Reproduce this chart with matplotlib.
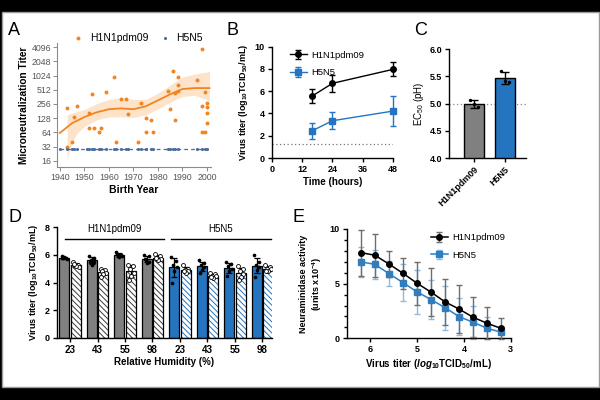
import numpy as np
import matplotlib.pyplot as plt
from matplotlib.patches import Rectangle
from matplotlib.ticker import MultipleLocator, NullLocator

plt.rcParams['font.family'] = ['Liberation Sans', 'DejaVu Sans']
plt.rcParams['mathtext.fontset'] = 'custom'
plt.rcParams['mathtext.rm'] = 'Liberation Sans:bold'
plt.rcParams['mathtext.it'] = 'Liberation Sans:italic:bold'
plt.rcParams['mathtext.bf'] = 'Liberation Sans:bold'
plt.rcParams['hatch.linewidth'] = 0.7

# ---- panel A: microneutralization titers by birth year ----
a_h1_years = [1943, 1943, 1945, 1946, 1947, 1952, 1953, 1952, 1954, 1956, 1957, 1959, 1962, 1963,
              1965, 1967, 1968, 1972, 1973, 1975, 1975, 1977, 1978, 1984, 1985, 1986, 1987, 1987,
              1988, 1988, 1988, 1996, 1998, 1998, 1998, 1999, 1999, 2000, 2000, 2000, 2000]
a_h1_titers = [31, 208, 40, 133, 232, 168, 415, 80, 80, 64, 80, 450, 930, 40,
               325, 325, 160, 40, 265, 64, 131, 117, 64, 470, 200, 1300, 117, 430,
               930, 650, 470, 820, 3800, 232, 64, 64, 450, 265, 222, 168, 103]
a_h5_years = [1940, 1943, 1945, 1946, 1947, 1951, 1952, 1953, 1954, 1956, 1957, 1959, 1962, 1963,
              1965, 1967, 1968, 1972, 1973, 1975, 1975, 1977, 1978, 1984, 1985, 1986, 1987, 1988,
              1996, 1998, 1999, 2000]
a_h5_titer = 28.3
a_fit_years = [1940, 1945, 1950, 1955, 1960, 1965, 1970, 1975, 1980, 1985, 1990, 1995, 2001]
a_fit_vals = [62, 100, 135, 170, 198, 206, 198, 228, 305, 410, 530, 555, 555]
a_band_years = [1943, 1945, 1947, 1950, 1955, 1960, 1965, 1970, 1975, 1980, 1985, 1990, 1995, 2001]
a_band_lo = [17, 40, 61, 85, 118, 135, 137, 133, 150, 200, 280, 370, 390, 300]
a_band_hi = [150, 165, 176, 195, 260, 320, 345, 320, 320, 430, 640, 950, 1100, 1240]
a_titer_ticks = [16, 32, 64, 128, 256, 512, 1024, 2048, 4096]

# ---- panel B: growth kinetics ----
b_hours = [16, 24, 48]
b_h1_mean = [5.57, 6.71, 7.97]
b_h1_sd = [0.63, 0.75, 0.63]
b_h5_mean = [2.45, 3.35, 4.22]
b_h5_sd = [0.73, 0.78, 1.32]
b_lod = 1.26

# ---- panel C: pH of fusion ----
c_strains = ['H1N1pdm09', 'H5N5']
c_reps = [[5.07, 4.99, 4.93], [5.60, 5.42, 5.40]]

# ---- panel D: stability at relative humidity ----
d_rh = ['23', '43', '55', '98', '23', '43', '55', '98']
d_solid = [[5.9, 5.8, 5.75, 5.7, 5.85, 5.8],
           [5.95, 5.8, 5.6, 5.45, 5.3, 5.5],
           [6.2, 6.0, 5.95, 5.9, 5.85, 6.05],
           [6.0, 5.9, 5.6, 5.5, 5.4, 5.7],
           [5.85, 5.55, 5.3, 5.1, 4.8, 3.95],
           [5.6, 5.4, 5.3, 5.1, 4.9, 4.7],
           [5.5, 5.35, 5.2, 5.0, 4.85, 4.5],
           [6.0, 5.5, 5.3, 5.1, 4.9, 4.4]]
d_hatched = [[5.45, 5.3, 5.25, 5.1, 5.2, 5.35],
             [5.0, 4.9, 4.8, 4.7, 4.6, 4.4],
             [5.3, 5.2, 5.0, 4.7, 4.5, 4.2],
             [6.05, 5.95, 5.8, 5.7, 5.6, 5.75],
             [5.3, 5.0, 4.9, 4.8, 4.7, 4.85],
             [4.7, 4.6, 4.5, 4.45, 4.35, 4.4],
             [5.2, 5.0, 4.8, 4.6, 4.4, 4.2],
             [5.3, 5.15, 5.0, 4.95, 4.85, 4.8]]

# ---- panel E: neuraminidase activity ----
e_titer = [6.2, 5.9, 5.6, 5.3, 5.0, 4.7, 4.4, 4.1, 3.8, 3.5, 3.2]
e_h1_mean = [7.84, 7.6, 6.8, 5.95, 5.04, 4.22, 3.33, 2.67, 1.92, 1.37, 0.9]
e_h1_sd = [2.1, 1.95, 1.15, 1.43, 1.98, 2.2, 2.14, 2.2, 1.83, 1.47, 0.92]
e_h5_mean = [6.99, 6.77, 5.92, 5.1, 4.25, 3.54, 2.8, 1.98, 1.46, 0.91, 0.55]
e_h5_sd = [1.34, 1.3, 1.15, 1.7, 2.0, 1.75, 2.0, 1.7, 1.5, 1.0, 0.5]

ORANGE = '#f28522'
SLATE = '#4a6c9e'
BLUE = '#2474c0'
GRAY = '#808080'

W, H = 600, 400
fig = plt.figure(figsize=(6, 4), dpi=100)
fig.patch.set_facecolor('black')
fig.add_artist(Rectangle((1.5 / W, 1 - 387 / H), 597 / W, 375 / H, transform=fig.transFigure,
                         facecolor='white', edgecolor='#9a9a9a', lw=1, zorder=-5))


def px_axes(l, t, r, b):
    return fig.add_axes([l / W, 1 - b / H, (r - l) / W, (b - t) / H])


def prism(ax):
    for s in ['top', 'right']:
        ax.spines[s].set_visible(False)
    for s in ['left', 'bottom']:
        ax.spines[s].set_linewidth(1.0)
    ax.tick_params(width=1.0, length=3, labelsize=6.5, pad=2)
    ax.set_facecolor('none')


def bold_ticks(ax):
    for lab in ax.get_xticklabels() + ax.get_yticklabels():
        lab.set_fontweight('bold')


# panel labels
for letter, x, y in [('A', 8, 35), ('B', 226, 35), ('C', 414, 35), ('D', 8, 222), ('E', 293, 222)]:
    fig.text(x / W, 1 - y / H, letter, fontsize=13, va='baseline', ha='left')

# ---------- A ----------
axA = px_axes(57.3, 43, 210.7, 166.7)
axA.set_facecolor('none')
axA.fill_between(a_band_years, a_band_lo, a_band_hi, color='#fde3c9', lw=0, zorder=1)
axA.plot(a_fit_years, a_fit_vals, color=ORANGE, lw=1.3, zorder=2)
axA.plot([a_h5_years[0], 2001], [a_h5_titer, a_h5_titer], color=SLATE, lw=0.9,
         ls=(0, (3, 2.5)), zorder=2)
axA.scatter(a_h1_years, a_h1_titers, s=8, color=ORANGE, lw=0, zorder=3, label='H1N1pdm09')
axA.scatter(a_h5_years, [a_h5_titer] * len(a_h5_years), s=5, color=SLATE, lw=0, zorder=3,
            label='H5N5')
axA.set_yscale('log', base=2)
axA.set_ylim(12, 5000)
axA.set_yticks(a_titer_ticks, [str(t) for t in a_titer_ticks])
axA.yaxis.set_minor_locator(NullLocator())
axA.set_xlim(1939, 2001.5)
axA.set_xticks(range(1940, 2001, 10))
for s in ['top', 'right']:
    axA.spines[s].set_visible(False)
for s in ['left', 'bottom']:
    axA.spines[s].set_color('#8a8a8a')
    axA.spines[s].set_linewidth(0.8)
axA.tick_params(colors='#8a8a8a', labelcolor='#555555', labelsize=6.3, length=3, width=0.7, pad=1.5)
axA.set_ylabel('Microneutralization Titer', fontsize=7.3, fontweight='bold', labelpad=2)
axA.set_xlabel('Birth Year', fontsize=7.5, fontweight='bold', labelpad=2)
axA.legend(loc='lower center', bbox_to_anchor=(0.51, 0.97), ncol=2, frameon=False, fontsize=7.5,
           handletextpad=0.1, columnspacing=0.6, borderaxespad=0, markerscale=1.0)

# ---------- B ----------
axB = px_axes(271.7, 46.7, 393.3, 158)
prism(axB)
axB.plot([0, 48], [b_lod, b_lod], ls=(0, (1, 2)), color='#777777', lw=0.9)
axB.errorbar(b_hours, b_h1_mean, yerr=b_h1_sd, color='black', marker='o', ms=4, lw=1,
             elinewidth=1, capsize=2.5, capthick=1, clip_on=False, label='H1N1pdm09', zorder=3)
axB.errorbar(b_hours, b_h5_mean, yerr=b_h5_sd, color=BLUE, marker='s', ms=4, lw=1,
             elinewidth=1, capsize=2.5, capthick=1, clip_on=False, label='H5N5', zorder=3)
axB.set_xlim(0, 48)
axB.set_ylim(0, 10)
axB.set_xticks(range(0, 49, 12))
axB.set_yticks(range(0, 11, 2))
bold_ticks(axB)
axB.set_ylabel('Virus titer (log$_{10}$TCID$_{50}$/mL)', fontsize=6.5, fontweight='bold', labelpad=3)
axB.set_xlabel('Time (hours)', fontsize=7, fontweight='bold', labelpad=2)
axB.legend(loc='upper left', bbox_to_anchor=(0.08, 1.04), frameon=False, fontsize=6.8,
           handlelength=1.8, handletextpad=0.5, labelspacing=0.9)

# ---------- C ----------
axC = px_axes(449.3, 49.3, 526, 158)
prism(axC)
c_means = [np.mean(r) for r in c_reps]
c_sds = [np.std(r, ddof=1) for r in c_reps]
c_x = np.arange(len(c_strains))
axC.axhline(5.0, ls=(0, (1, 2)), color='#888888', lw=0.9, zorder=1)
axC.bar(c_x, c_means, width=0.645, color=[GRAY, BLUE], edgecolor='black', lw=1, zorder=2)
axC.errorbar(c_x, c_means, yerr=c_sds, fmt='none', ecolor='black', elinewidth=1, capsize=3,
             capthick=1, zorder=4)
for i, reps in enumerate(c_reps):
    axC.scatter(c_x[i] + np.array([-0.12, 0.0, 0.12]), reps, s=6, color='black', zorder=5, lw=0)
axC.set_xlim(-0.8, 1.68)
axC.set_ylim(4, 6)
axC.set_yticks([4.0, 4.5, 5.0, 5.5, 6.0], ['4.0', '4.5', '5.0', '5.5', '6.0'])
axC.set_xticks(c_x, c_strains, rotation=45, ha='right', rotation_mode='anchor', fontsize=6.5)
bold_ticks(axC)
axC.set_ylabel(r'EC$_\mathregular{50}$ (pH)', fontsize=7, labelpad=3)

# ---------- D ----------
axD = px_axes(56.7, 227.3, 272, 337.7)
prism(axD)
d_x = np.arange(len(d_rh))
off, bw = 0.21, 0.36
jit = np.array([-0.1, 0.08, -0.04, 0.1, 0.0, -0.07])
for i in range(len(d_rh)):
    col = GRAY if i < 4 else BLUE
    hcol = '#3a3a3a' if i < 4 else BLUE
    ms, mh = np.mean(d_solid[i]), np.mean(d_hatched[i])
    ss, sh = np.std(d_solid[i], ddof=1), np.std(d_hatched[i], ddof=1)
    axD.bar(i - off, ms, width=bw, color=col, edgecolor='black', lw=0.9, zorder=2)
    axD.bar(i + off, mh, width=bw, color='white', edgecolor=hcol, hatch='\\\\\\\\\\\\', lw=0, zorder=2)
    axD.bar(i + off, mh, width=bw, fill=False, edgecolor='black', lw=0.9, zorder=3)
    axD.errorbar([i - off, i + off], [ms, mh], yerr=[ss, sh], fmt='none', ecolor='black',
                 elinewidth=0.9, capsize=2, capthick=0.9, zorder=4)
    axD.scatter(i - off + jit, d_solid[i], s=7, color='black', lw=0, zorder=5)
    axD.scatter(i + off + jit, d_hatched[i], s=8, facecolor='white', edgecolor='black',
                lw=0.6, zorder=5)
axD.set_xlim(-0.485, 7.35)
axD.set_ylim(0, 8)
axD.set_yticks(range(0, 9, 2))
axD.set_xticks(d_x, d_rh, fontsize=7)
bold_ticks(axD)
for (x0, x1, name) in [(-0.18, 3.41, 'H1N1pdm09'), (3.69, 7.3, 'H5N5')]:
    axD.plot([x0, x1], [7.13, 7.13], color='black', lw=1, clip_on=False)
    axD.text((x0 + x1) / 2, 7.85, name, ha='center', va='center', fontsize=7)
axD.set_ylabel('Virus titer (log$_{10}$TCID$_{50}$/mL)', fontsize=6.5, fontweight='bold', labelpad=3)
axD.set_xlabel('Relative Humidity (%)', fontsize=7, fontweight='bold', labelpad=2)

# ---------- E ----------
axE = px_axes(346.7, 229, 510.7, 338.3)
prism(axE)
axE.errorbar(e_titer, e_h1_mean, yerr=e_h1_sd, color='black', ecolor='#6e6e6e', marker='o',
             ms=4, lw=1.1, elinewidth=1, capsize=2.5, capthick=1, label='H1N1pdm09', zorder=3,
             clip_on=False)
axE.errorbar(e_titer, e_h5_mean, yerr=e_h5_sd, color='#2a7fc6', ecolor='#8fbbe0', marker='s',
             ms=4, lw=1.1, elinewidth=1, capsize=2.5, capthick=1, label='H5N5', zorder=2,
             clip_on=False)
axE.set_xlim(6.5, 3)
axE.set_ylim(0, 10)
axE.set_xticks([6, 5, 4, 3])
axE.set_yticks([0, 5, 10])
axE.yaxis.set_minor_locator(MultipleLocator(1))
axE.tick_params(which='minor', length=2, width=1)
bold_ticks(axE)
axE.set_ylabel('Neuraminidase activity\n(units x10$^{-4}$)', fontsize=6.5, fontweight='bold',
               labelpad=4)
axE.set_xlabel('Virus titer ($log_{10}$TCID$_{50}$/mL)', fontsize=7, fontweight='bold', labelpad=2)
axE.legend(loc='upper right', bbox_to_anchor=(1.02, 1.04), frameon=False, fontsize=6.8,
           handlelength=1.8, handletextpad=0.5, labelspacing=0.9)

fig.savefig('out.png', dpi=100, facecolor=fig.get_facecolor())
